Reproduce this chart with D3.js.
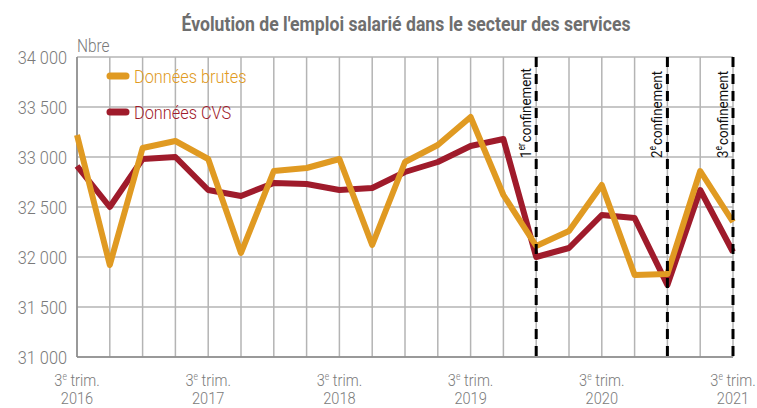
<!DOCTYPE html>
<html>
<head>
<meta charset="utf-8">
<script src="https://cdn.jsdelivr.net/npm/d3@7"></script>
<style>
  body { margin: 0; background: #fff; }
  svg text { font-family: Roboto, "Liberation Sans", sans-serif; font-weight: 300; }
</style>
</head>
<body>
<div id="chart"></div>
<script>
// trimestres de 2016 T3 a 2021 T3
var quarters = ["2016T3","2016T4","2017T1","2017T2","2017T3","2017T4","2018T1","2018T2","2018T3","2018T4",
                "2019T1","2019T2","2019T3","2019T4","2020T1","2020T2","2020T3","2020T4","2021T1","2021T2","2021T3"];
var brutes = [33220, 31920, 33090, 33160, 32980, 32040, 32860, 32890, 32980, 32120,
              32950, 33120, 33400, 32620, 32110, 32260, 32720, 31820, 31830, 32860, 32350];
var cvs = [32910, 32500, 32980, 33000, 32670, 32610, 32740, 32730, 32670, 32690,
           32850, 32950, 33110, 33180, 32000, 32090, 32420, 32390, 31720, 32670, 32050];
var yTicks = [31000, 31500, 32000, 32500, 33000, 33500, 34000];
var xLabels = [["2016T3", "2016"], ["2017T3", "2017"], ["2018T3", "2018"], ["2019T3", "2019"], ["2020T3", "2020"], ["2021T3", "2021"]];
var confinements = [["2020T1", "1", "er"], ["2021T1", "2", "e"], ["2021T3", "3", "e"]];

var width = 757, height = 408;
var mLeft = 77, mRight = 733, mTop = 57, mBottom = 357;
var orange = "#e09a22", red = "#9f1b2b", grid = "#b4b4b4", txt = "#7a7a7a";
var k = 0.86; // police etroite

var svg = d3.select("#chart").append("svg")
    .attr("width", width)
    .attr("height", height);

var x = d3.scalePoint().domain(quarters).range([mLeft, mRight]);
var y = d3.scaleLinear().domain([31000, 34000]).range([mBottom, mTop]);

// grille
svg.append("g").selectAll("line").data(quarters).enter().append("line")
    .attr("x1", function(d) { return x(d); })
    .attr("x2", function(d) { return x(d); })
    .attr("y1", mTop).attr("y2", mBottom)
    .style("stroke", grid).style("stroke-width", 1.5);

svg.append("g").selectAll("line").data(yTicks).enter().append("line")
    .attr("x1", mLeft).attr("x2", mRight)
    .attr("y1", function(d) { return y(d); })
    .attr("y2", function(d) { return y(d); })
    .style("stroke", grid).style("stroke-width", 1.5);

svg.append("line").attr("x1", mLeft).attr("x2", mLeft).attr("y1", mTop).attr("y2", mBottom)
    .style("stroke", "#8a8a8a").style("stroke-width", 1.5);
svg.append("line").attr("x1", mLeft).attr("x2", mRight).attr("y1", mBottom).attr("y2", mBottom)
    .style("stroke", "#8a8a8a").style("stroke-width", 1.5);

// axe y
var fmt = function(d) { return d3.format(",")(d).replace(",", " "); };
svg.append("g").selectAll("text").data(yTicks).enter().append("text")
    .attr("transform", function(d) { return "translate(" + (mLeft - 10) + "," + y(d) + ") scale(" + k + ",1)"; })
    .attr("dy", "0.36em")
    .attr("text-anchor", "end")
    .style("font-size", "19px")
    .style("fill", txt)
    .text(fmt);

svg.append("text").attr("transform", "translate(" + mLeft + ",52) scale(" + k + ",1)")
    .style("font-size", "18px").style("fill", txt).text("Nbre");

// axe x
var xl = svg.append("g").selectAll("g").data(xLabels).enter().append("g")
    .attr("transform", function(d) { return "translate(" + x(d[0]) + ",0) scale(" + k + ",1)"; });
var t1 = xl.append("text").attr("y", 386).attr("text-anchor", "middle")
    .style("font-size", "17px").style("fill", txt);
t1.append("tspan").text("3");
t1.append("tspan").attr("dy", -6).style("font-size", "10px").text("e");
t1.append("tspan").attr("dy", 6).text(" trim.");
xl.append("text").attr("y", 404).attr("text-anchor", "middle")
    .style("font-size", "17px").style("fill", txt)
    .text(function(d) { return d[1]; });

// lignes
var line = d3.line()
    .x(function(d, i) { return x(quarters[i]); })
    .y(function(d) { return y(d); });

svg.append("path").datum(cvs).attr("d", line)
    .style("fill", "none").style("stroke", red).style("stroke-width", 6).style("stroke-linejoin", "round");
svg.append("path").datum(brutes).attr("d", line)
    .style("fill", "none").style("stroke", orange).style("stroke-width", 6).style("stroke-linejoin", "round");

// confinements
var conf = svg.append("g").selectAll("g").data(confinements).enter().append("g");
conf.append("line")
    .attr("x1", function(d) { return x(d[0]); })
    .attr("x2", function(d) { return x(d[0]); })
    .attr("y1", mTop).attr("y2", mBottom)
    .style("stroke", "#000").style("stroke-width", 3)
    .style("stroke-dasharray", "10,7");
var ct = conf.append("text")
    .attr("transform", function(d) { return "translate(" + (x(d[0]) - 5) + ",158) rotate(-90) scale(" + k + ",1)"; })
    .style("font-size", "15.5px").style("font-weight", "400").style("fill", "#111");
ct.append("tspan").text(function(d) { return d[1]; });
ct.append("tspan").attr("dy", -6).style("font-size", "10px").text(function(d) { return d[2]; });
ct.append("tspan").attr("dy", 6).attr("dx", 1).text("confinement");

// légende
var legend = [["Données brutes", orange, 76], ["Données CVS", red, 112]];
var lg = svg.append("g").selectAll("g").data(legend).enter().append("g");
lg.append("line").attr("x1", 110).attr("x2", 126)
    .attr("y1", function(d) { return d[2]; }).attr("y2", function(d) { return d[2]; })
    .style("stroke", function(d) { return d[1]; }).style("stroke-width", 7).style("stroke-linecap", "round");
lg.append("text")
    .attr("transform", function(d) { return "translate(134," + d[2] + ") scale(" + k + ",1)"; })
    .attr("dy", "0.36em")
    .style("font-size", "19px").style("fill", function(d) { return d[1]; })
    .text(function(d) { return d[0]; });

// titre
svg.append("text").attr("transform", "translate(406,31) scale(" + k + ",1)").attr("text-anchor", "middle")
    .style("font-size", "20.5px").style("font-weight", "bold").style("fill", "#6e6e6e")
    .text("Évolution de l'emploi salarié dans le secteur des services");
</script>
</body>
</html>
